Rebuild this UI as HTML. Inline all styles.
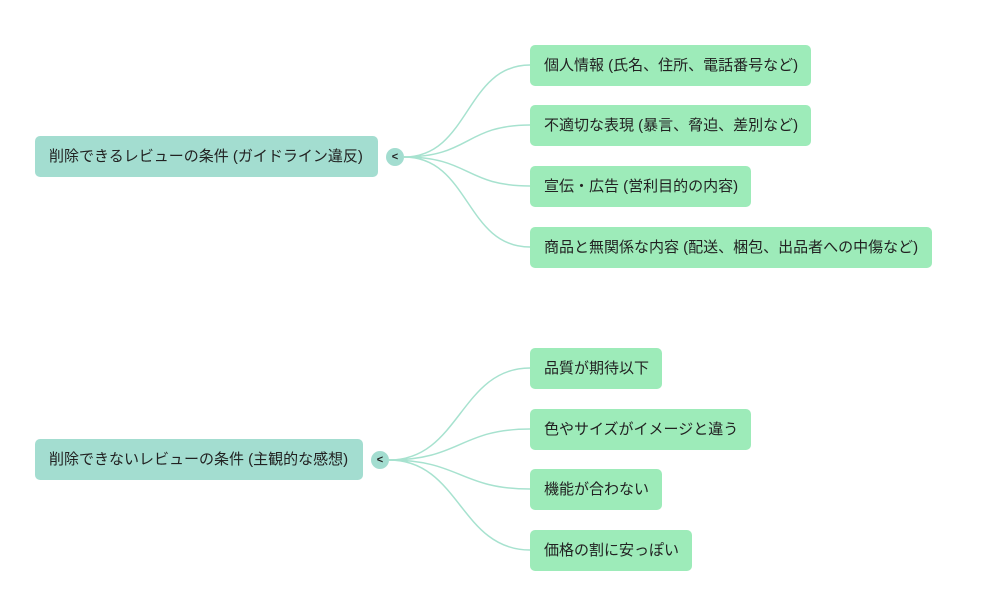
<!DOCTYPE html>
<html><head><meta charset="utf-8"><style>
body{margin:0;width:1000px;height:600px;background:#fff;position:relative;overflow:hidden;font-family:"Liberation Sans","Noto Sans CJK JP",sans-serif;font-size:15px;color:#222}
.b{position:absolute;height:41px;line-height:41px;border-radius:5px;padding-left:14px;box-sizing:border-box;white-space:nowrap}
.r{background:#a3ddd0}
.c{background:#9debb9}
.o{position:absolute;width:18px;height:18px;border-radius:50%;background:#a3ddd0;font-size:11px;font-weight:bold;text-align:center;line-height:18px}
svg{position:absolute;left:0;top:0}
</style></head><body>
<svg width="1000" height="600" fill="none" stroke="#a7e2cf" stroke-width="1.5">
<path d="M404 157 C470 157,465 65,530 65"/>
<path d="M404 157 C470 157,465 125,530 125"/>
<path d="M404 157 C470 157,465 186,530 186"/>
<path d="M404 157 C470 157,465 247,530 247"/>
<path d="M389 460 C460 460,460 368,530 368"/>
<path d="M389 460 C460 460,460 429,530 429"/>
<path d="M389 460 C460 460,460 489,530 489"/>
<path d="M389 460 C460 460,460 550,530 550"/>
</svg>
<div class="b r" style="left:35px;top:136px;width:343px">削除できるレビューの条件 (ガイドライン違反)</div>
<div class="o" style="left:386px;top:148px">&lt;</div>
<div class="b c" style="left:530px;top:45px;width:281px">個人情報 (氏名、住所、電話番号など)</div>
<div class="b c" style="left:530px;top:105px;width:281px">不適切な表現 (暴言、脅迫、差別など)</div>
<div class="b c" style="left:530px;top:166px;width:221px">宣伝・広告 (営利目的の内容)</div>
<div class="b c" style="left:530px;top:227px;width:402px">商品と無関係な内容 (配送、梱包、出品者への中傷など)</div>
<div class="b r" style="left:35px;top:439px;width:328px">削除できないレビューの条件 (主観的な感想)</div>
<div class="o" style="left:371px;top:451px">&lt;</div>
<div class="b c" style="left:530px;top:348px;width:132px">品質が期待以下</div>
<div class="b c" style="left:530px;top:409px;width:221px">色やサイズがイメージと違う</div>
<div class="b c" style="left:530px;top:469px;width:132px">機能が合わない</div>
<div class="b c" style="left:530px;top:530px;width:162px">価格の割に安っぽい</div>
</body></html>
